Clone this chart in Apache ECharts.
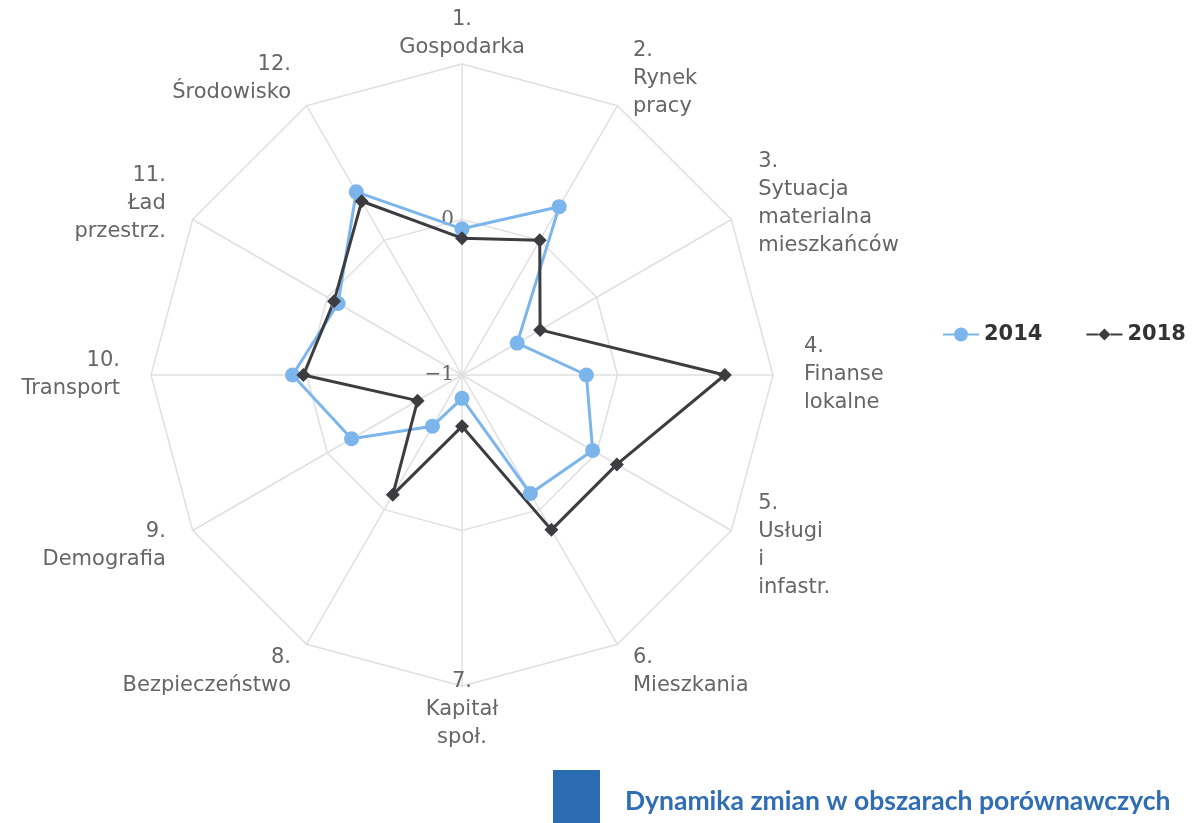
<!DOCTYPE html>
<html>
<head>
<meta charset="utf-8">
<script src="https://cdn.jsdelivr.net/npm/echarts@6/dist/echarts.min.js"></script>
<style>
  html, body { margin: 0; padding: 0; background: #fff; }
  #main { width: 1200px; height: 823px; }
</style>
</head>
<body>
<div id="main"></div>
<script>
const chartDom = document.getElementById('main');
const myChart = echarts.init(chartDom);

// axes clockwise from the top
const areas = [
    '1.\nGospodarka',
    '2.\nRynek\npracy',
    '3.\nSytuacja\nmaterialna\nmieszkańców',
    '4.\nFinanse\nlokalne',
    '5.\nUsługi\ni\ninfastr.',
    '6.\nMieszkania',
    '7.\nKapitał\nspoł.',
    '8.\nBezpieczeństwo',
    '9.\nDemografia',
    '10.\nTransport',
    '11.\nŁad\nprzestrz.',
    '12.\nŚrodowisko'
];
const values2014 = [-0.06, 0.25, -0.59, -0.20, -0.03, -0.12, -0.85, -0.62, -0.18, 0.09, -0.08, 0.36];
const values2018 = [-0.12, 0.00, -0.42, 0.69, 0.15, 0.15, -0.67, -0.11, -0.67, 0.02, -0.05, 0.29];
const seriesNames = ['2014', '2018'];

// echarts lays radar axes out counter-clockwise, so flip the order after the first one
const order = [0].concat(areas.map((_, i) => i).slice(1).reverse());
const pick = arr => order.map(i => arr[i]);

const indicators = pick(areas).map(function (name, k) {
    const ind = { name: name, min: -1, max: 1 };
    if (k === 0) {
        ind.nameGap = 2;
        ind.axisLabel = { show: true };
    }
    if (order[k] === 6) ind.nameGap = -18;
    return ind;
});

const iconCircle = 'path://M0,6H11V8H0Z M25,6H36V8H25Z M11,7A7,7 0 1,1 25,7A7,7 0 1,1 11,7Z';
const iconDiamond = 'path://M0,6H12V8H0Z M24,6H36V8H24Z M18,1L24,7L18,13L12,7Z';

let option = {
    backgroundColor: '#fff',
    title: {
        text: 'Dynamika zmian w obszarach porównawczych',
        left: 620,
        top: 783,
        textStyle: {
            fontFamily: 'Lato',
            fontWeight: 'bold',
            fontSize: 26.5,
            color: '#2f6db5'
        }
    },
    graphic: [{
        type: 'rect',
        left: 553,
        top: 770,
        shape: { width: 47, height: 53 },
        style: { fill: '#2b6bb2' }
    }],
    legend: {
        left: 938,
        top: 319,
        itemWidth: 36,
        itemHeight: 14,
        itemGap: 44,
        textStyle: {
            fontFamily: 'DejaVu Sans',
            fontWeight: 'bold',
            fontSize: 21,
            color: '#333'
        },
        data: [
            { name: seriesNames[0], icon: iconCircle },
            { name: seriesNames[1], icon: iconDiamond }
        ]
    },
    radar: {
        center: [462, 375],
        radius: 311,
        startAngle: 90,
        shape: 'polygon',
        splitNumber: 2,
        axisNameGap: 31,
        axisName: {
            color: '#666',
            fontFamily: 'DejaVu Sans',
            fontSize: 21,
            lineHeight: 28
        },
        axisLabel: {
            show: false,
            color: '#666',
            fontFamily: 'DejaVu Serif',
            fontSize: 20,
            margin: 8,
            padding: [0, 0, 14, 0],
            formatter: v => v === 1 ? '' : (v < 0 ? '\u2212' + Math.abs(v) : String(v))
        },
        axisLine: { lineStyle: { color: '#e0e0e0', width: 1.5 } },
        splitLine: { lineStyle: { color: '#e0e0e0', width: 1.5 } },
        splitArea: { show: false },
        indicator: indicators
    },
    series: [{
        type: 'radar',
        z: 3,
        data: [
            {
                name: seriesNames[0],
                value: pick(values2014),
                symbol: 'circle',
                symbolSize: 15,
                lineStyle: { color: '#7cb5ec', width: 3 },
                itemStyle: { color: '#7cb5ec' }
            },
            {
                name: seriesNames[1],
                value: pick(values2018),
                symbol: 'diamond',
                symbolSize: 14,
                lineStyle: { color: '#3c3c41', width: 3 },
                itemStyle: { color: '#3c3c41' }
            }
        ]
    }]
};

option && myChart.setOption(option);
</script>
</body>
</html>
